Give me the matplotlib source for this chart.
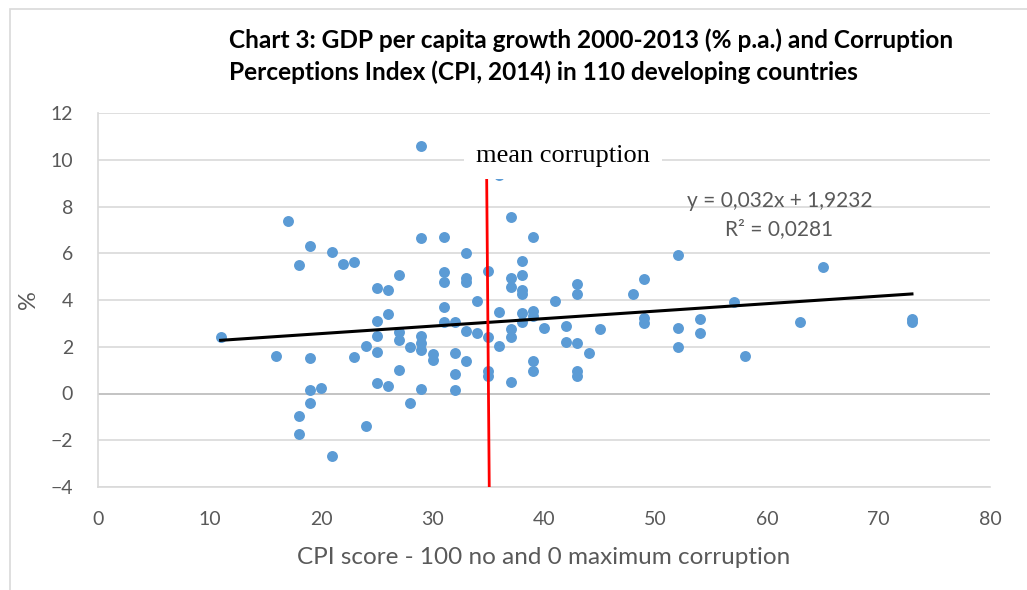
import numpy as np
import matplotlib.pyplot as plt
from matplotlib.patches import Rectangle

# CPI score (x) and GDP per capita growth % p.a. (y)
cpi = [11, 16, 17,
       18, 18, 18,
       19, 19, 19, 19,
       20, 21, 21, 22, 23, 23, 24, 24,
       25, 25, 25, 25, 25,
       26, 26, 26,
       27, 27, 27, 27,
       28, 28,
       29, 29, 29, 29, 29, 29,
       30, 30,
       31, 31, 31, 31, 31,
       32, 32, 32, 32,
       33, 33, 33, 33, 33,
       34, 34,
       35, 35, 35, 35,
       36, 36, 36,
       37, 37, 37, 37, 37, 37,
       38, 38, 38, 38, 38, 38,
       39, 39, 39, 39, 39,
       40, 41, 42, 42,
       43, 43, 43, 43, 43,
       44, 45, 48,
       49, 49, 49,
       52, 52, 52,
       54, 54, 57, 58, 63, 65, 73, 73]
growth = [2.4, 1.6, 7.4,
          5.5, -0.98, -1.72,
          6.3, 1.5, 0.17, -0.4,
          0.25, 6.07, -2.69, 5.55, 5.64, 1.58, 2.02, -1.41,
          4.53, 3.12, 2.46, 1.78, 0.47,
          4.44, 3.42, 0.3,
          5.09, 2.62, 2.29, 1.0,
          1.97, -0.41,
          10.6, 6.67, 2.48, 2.15, 1.87, 0.2,
          1.7, 1.45,
          6.7, 5.2, 4.76, 3.69, 3.08,
          3.08, 1.75, 0.85, 0.13,
          6.03, 4.96, 4.79, 2.69, 1.37,
          3.97, 2.58,
          5.26, 2.43, 0.98, 0.77,
          9.35, 3.5, 2.05,
          7.53, 4.96, 4.57, 2.78, 2.43, 0.51,
          5.68, 5.07, 4.44, 4.27, 3.46, 3.08,
          6.7, 3.55, 3.3, 1.41, 0.98,
          2.82, 3.97, 2.9, 2.22,
          4.7, 4.27, 2.14, 0.98, 0.77,
          1.75, 2.78, 4.27,
          4.91, 3.25, 3.03,
          5.94, 2.82, 1.97,
          3.2, 2.6, 3.93, 1.62, 3.08, 5.43, 3.2, 3.08]

# linear trend as printed on the chart
slope = 0.032
intercept = 1.9232

# hand drawn "mean corruption" marker (slightly tilted)
mean_x = [34.86, 35.09]
mean_y = [9.15, -4.0]

grey = '#595959'
plt.rcParams['font.family'] = ['Lato', 'DejaVu Sans']

fig = plt.figure(figsize=(10.27, 5.9), dpi=100)
ax = fig.add_axes([98/1027, 1 - 487/590, 892/1027, 374/590])

# outer chart frame (cut off at right and bottom)
fig.patches.append(Rectangle((10/1027, -0.1), 1.1, 1 - 9/590 + 0.1,
                             transform=fig.transFigure, fill=False,
                             edgecolor='#d9d9d9', lw=1.2))

ax.scatter(cpi, growth, s=62, color='#5b9bd5', zorder=3, linewidths=0)

xt = np.array([min(cpi), max(cpi)])
ax.plot(xt, slope * xt + intercept, color='black', lw=2.2, zorder=4)

ax.plot(mean_x, mean_y, color='#ff0000', lw=2, zorder=5)

ax.text(41.7, 10.15, 'mean corruption', family=['Liberation Serif'], fontsize=19,
        ha='center', va='center', zorder=6,
        bbox=dict(boxstyle='square,pad=0.45', facecolor='white', edgecolor='none'))

ax.text(61.1, 8.25, 'y = 0,032x + 1,9232', fontsize=15, color=grey,
        ha='center', va='center', zorder=6)
ax.text(61.1, 7.05, 'R² = 0,0281', fontsize=15, color=grey,
        ha='center', va='center', zorder=6)

ax.set_xlim(0, 80)
ax.set_ylim(-4, 12)
ax.set_xticks(range(0, 81, 10))
ax.set_yticks(range(-4, 13, 2))
ax.grid(axis='y', color='#d9d9d9', lw=1.2)
ax.axhline(0, color='#bfbfbf', lw=1.2, zorder=1)
ax.set_axisbelow(True)
for side in ['top', 'right']:
    ax.spines[side].set_visible(False)
for side in ['left', 'bottom']:
    ax.spines[side].set_color('#d9d9d9')
    ax.spines[side].set_linewidth(1.2)
ax.tick_params(length=0, labelsize=14, labelcolor=grey)
ax.tick_params(axis='y', pad=18)
ax.tick_params(axis='x', pad=17)

ax.set_xlabel('CPI score - 100 no and 0 maximum corruption', fontsize=17.5,
              color=grey, labelpad=14)
ax.set_ylabel('%', fontsize=17, color=grey, labelpad=8)

fig.text(229/1027, 1 - 40/590, 'Chart 3: GDP per capita growth 2000-2013 (% p.a.) and Corruption',
         fontsize=17.6, fontweight='bold', ha='left', va='center')
fig.text(229/1027, 1 - 72/590, 'Perceptions Index (CPI, 2014) in 110 developing countries',
         fontsize=17.6, fontweight='bold', ha='left', va='center')

fig.savefig('out.png', dpi=100)
